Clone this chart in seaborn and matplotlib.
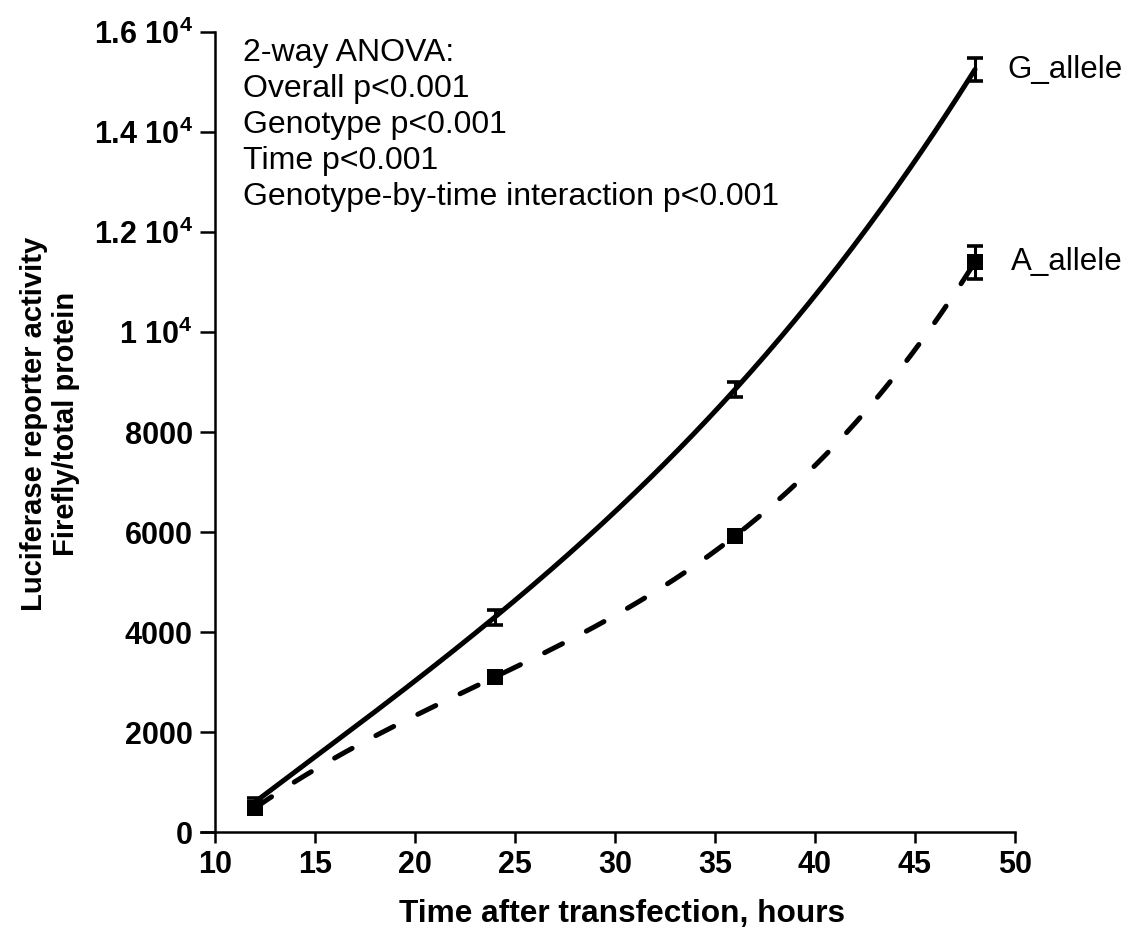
import numpy as np
import pandas as pd
import matplotlib
matplotlib.use("Agg")
import matplotlib.pyplot as plt
import seaborn as sns

hours = [12, 24, 36, 48]
g_allele = [600, 4300, 8850, 15250]
g_err = [80, 150, 150, 230]
a_allele = [480, 3100, 5920, 11400]
a_err = [60, 110, 110, 330]
yticks = [0, 2000, 4000, 6000, 8000, 10000, 12000, 14000, 16000]
ytick_labels = ["0", "2000", "4000", "6000", "8000",
                r"1 10$^{4}$", r"1.2 10$^{4}$", r"1.4 10$^{4}$", r"1.6 10$^{4}$"]
xticks = [10, 15, 20, 25, 30, 35, 40, 45, 50]
anova_text = ["2-way ANOVA:", "Overall p<0.001", "Genotype p<0.001",
              "Time p<0.001", "Genotype-by-time interaction p<0.001"]

sns.set_style("ticks")
plt.rcParams["font.family"] = ["Liberation Sans", "DejaVu Sans"]
plt.rcParams["mathtext.fontset"] = "custom"
plt.rcParams["mathtext.rm"] = "Liberation Sans:bold"
plt.rcParams["mathtext.it"] = "Liberation Sans:bold"
plt.rcParams["mathtext.bf"] = "Liberation Sans:bold"
for k in ("text.color", "axes.labelcolor", "xtick.color", "ytick.color", "axes.edgecolor"):
    plt.rcParams[k] = "black"

fig = plt.figure(figsize=(11.28, 9.41), dpi=100)
ax = fig.add_axes([201 / 1128, 1 - 832 / 941, (1015 - 201) / 1128, 800 / 941])

# smooth curves through the measured points (cubic through the 4 means)
xs = np.linspace(hours[0], hours[-1], 300)
g_fit = np.polyval(np.polyfit(hours, g_allele, 3), xs)
a_fit = np.polyval(np.polyfit(hours, a_allele, 3), xs)
curves = pd.DataFrame({"x": np.concatenate([xs, xs]),
                       "y": np.concatenate([g_fit, a_fit]),
                       "allele": ["G_allele"] * len(xs) + ["A_allele"] * len(xs)})
sns.lineplot(data=curves, x="x", y="y", hue="allele", style="allele",
             palette={"G_allele": "black", "A_allele": "black"},
             dashes={"G_allele": "", "A_allele": (4.0, 5.4)},
             linewidth=3.6, legend=False, ax=ax, solid_capstyle="round")
for ln in ax.lines:
    ln.set_dash_capstyle("round")

ax.errorbar(hours, g_allele, yerr=g_err, fmt="none", ecolor="black",
            elinewidth=2.2, capsize=5.5, capthick=2.6)
ax.errorbar(hours, a_allele, yerr=a_err, fmt="none", ecolor="black",
            elinewidth=2.2, capsize=5.5, capthick=2.6)
pts = pd.DataFrame({"x": hours, "y": a_allele})
sns.scatterplot(data=pts, x="x", y="y", marker="s", s=145, color="black",
                edgecolor="black", linewidth=0, ax=ax, zorder=5)

ax.set_xlim(9.3, 50)
ax.set_ylim(0, 16000)
ax.spines["left"].set_position(("data", 10))
ax.spines["top"].set_visible(False)
ax.spines["right"].set_visible(False)
for s in ("left", "bottom"):
    ax.spines[s].set_linewidth(1.8)
ax.set_xticks(xticks)
ax.set_xticklabels([str(t) for t in xticks], fontsize=22, fontweight="bold")
ax.set_yticks(yticks)
ax.set_yticklabels(ytick_labels, fontsize=22, fontweight="bold")
ax.tick_params(axis="y", length=11, width=1.8, pad=5)
ax.tick_params(axis="x", length=8, width=1.8, pad=5)

ax.set_xlabel("Time after transfection, hours", fontsize=22.8, fontweight="bold",
              va="center")
ax.xaxis.set_label_coords(0.517, -0.102)
ax.set_ylabel("Luciferase reporter activity\nFirefly/total protein", fontsize=21,
              fontweight="bold", linespacing=1.15)
ax.yaxis.set_label_coords(-0.149, 0.51)

ax.text(11.4, 15880, "\n".join(anova_text), fontsize=23, va="top", ha="left",
        linespacing=1.26)
ax.text(49.6, g_allele[-1], "G_allele", fontsize=22.5, va="center", ha="left",
        clip_on=False)
ax.text(49.8, a_allele[-1], "A_allele", fontsize=22.5, va="center", ha="left",
        clip_on=False)

fig.savefig("out.png", dpi=100)
